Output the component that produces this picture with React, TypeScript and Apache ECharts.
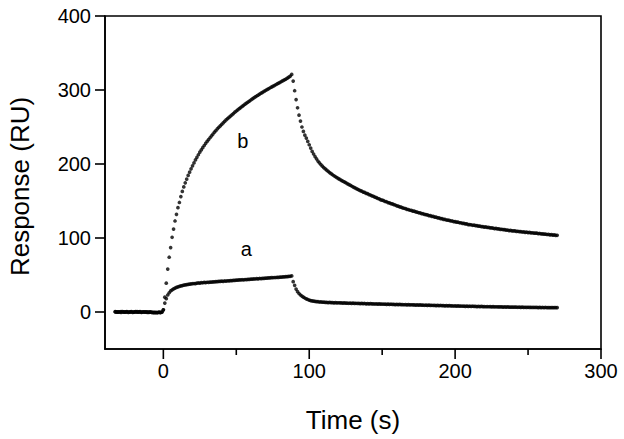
import React, { useEffect, useRef } from "react";
import * as echarts from "echarts";

const FONT = "'Liberation Sans', Arial, Helvetica, sans-serif";

// sampling: one point per second
const BASE_START = -33; // t = -33 .. -1
const RISE_START = 0; // t = 0 .. 88
const DECAY_START = 89; // t = 89 .. 270

const xLabelValues = [0, 100, 200, 300];
const xMinorValues = [50, 150, 250];
const yLabelValues = [0, 100, 200, 300, 400];

// curve b
const baseB = [0.2, -0.2, 0.3, 0, -0.4, 0.4, 0.1, -0.3, 0.5, 0, -0.1, 0.3, -0.4, 0.2, 0.5, -0.2, 0.1, 0.4, -0.3, 0.2, -0.1, 0.3, -0.4, -0.2, 0.1, -0.7, -0.4, -0.9, -0.5, -0.8, -0.3, -0.6, 0];
const riseB = [
  3, 20, 39, 58, 74, 87, 101, 112, 123, 132,
  141, 148, 156, 163, 169, 174.5, 179.5, 184.5, 189, 193.5,
  197.5, 201.5, 205.5, 209, 212.5, 216, 219, 222, 225, 228,
  230.5, 233, 235.5, 238, 240.5, 243, 245, 247.5, 249.5, 251.5,
  253.5, 255.5, 257.5, 259.5, 261.2, 263, 264.8, 266.5, 268.2, 270,
  271.6, 273.2, 274.8, 276.3, 277.8, 279.3, 280.8, 282.3, 283.7, 285.1,
  286.5, 287.9, 289.3, 290.6, 291.9, 293.2, 294.5, 295.7, 296.9, 298.1,
  299.3, 300.5, 301.6, 302.7, 303.8, 304.9, 306, 307.1, 308.2, 309.3,
  310.4, 311.5, 312.6, 313.7, 314.8, 316, 317.3, 318.8, 321,
];
const decayB = [
  312, 299, 287, 276, 266, 258, 250, 244, 239, 235,
  230.5, 226, 221.5, 217, 213.5, 210, 207, 204, 201.5, 199.2,
  197, 195, 193.3, 191.6, 190, 188.4, 186.9, 185.5, 184.1, 182.8,
  181.5, 180.3, 179.1, 178, 176.9, 175.8, 174.7, 173.6, 172.5, 171.4,
  170.3, 169.2, 168.1, 167.1, 166, 165, 164,
  163.3, 162.1, 161.6, 160.3, 159.9, 158.6, 158.1, 156.8, 156.4, 155.1, 154.6, 153.4, 152.9, 151.6, 151.2,
  150.5, 149.3, 149, 147.9, 147.5, 146.4, 146.1, 145, 144.6, 143.5, 143.2, 142, 141.7, 140.6, 140.2,
  139.6, 138.7, 138.5, 137.5, 137.4, 136.4, 136.2, 135.3, 135.1, 134.1, 134, 133, 132.8, 131.9, 131.7,
  131.2, 130.3, 130.2, 129.3, 129.2, 128.3, 128.2, 127.3, 127.2, 126.3, 126.2, 125.3, 125.2, 124.3, 124.2,
  123.8, 123, 123, 122.2, 122.2, 121.4, 121.4, 120.6, 120.6, 119.8, 119.8, 119, 119, 118.2, 118.2,
  117.9, 117.2, 117.3, 116.6, 116.7, 116, 116.1, 115.4, 115.5, 114.8, 114.9, 114.2, 114.3, 113.6, 113.7,
  113.4, 112.8, 112.9, 112.2, 112.4, 111.7, 111.8, 111.2, 111.3, 110.6, 110.8, 110.1, 110.2, 109.6, 109.7,
  109.5, 108.9, 109.1, 108.5, 108.7, 108.1, 108.3, 107.7, 107.9, 107.3, 107.5, 106.9, 107.1, 106.5, 106.7,
  106.5, 105.9, 106.1, 105.5, 105.7, 105.1, 105.3, 104.7, 104.9, 104.3, 104.5, 103.9, 104.1, 103.5, 103.7,
];

// curve a
const baseA = [0.4, 0.1, -0.3, 0.2, 0.5, 0, -0.2, 0.3, 0.1, -0.4, 0.2, 0.6, 0, -0.3, 0.1, 0.4, -0.1, 0.2, -0.5, 0, 0.3, -0.2, 0.1, -0.6, -0.3, 0, -0.8, -0.5, -1, -0.7, -0.4, -0.9, -0.2];
const riseA = [
  3, 12, 18, 23, 26, 28.5, 30, 31.2, 32.3, 33.2,
  34, 34.6, 35.2, 35.7, 36.2, 36.6, 37, 37.3, 37.6, 37.9, 38.2,
  38.5, 38.3, 38.9, 39.2, 39.1, 39.6, 39.5, 39.9, 39.8, 40.2,
  40.1, 40.5, 40.4, 40.8, 40.7, 41.1, 41, 41.4, 41.3, 41.6,
  41.5, 41.9, 41.8, 42.2, 42.1, 42.5, 42.4, 42.8, 42.7, 43.1,
  43, 43.4, 43.3, 43.6, 43.5, 43.9, 43.8, 44.2, 44.1, 44.4,
  44.3, 44.7, 44.6, 45, 44.9, 45.3, 45.2, 45.5, 45.4, 45.8,
  45.7, 46.1, 46, 46.4, 46.3, 46.6, 46.6, 46.9, 46.9, 47.2,
  47.2, 47.5, 47.5, 47.8, 47.9, 48.1, 48.3, 48.8,
];
const decayA = [
  41, 36, 31, 27.5, 25, 23, 21.5, 20.1, 18.9, 17.8, 16.9, 16.1, 15.5, 15, 14.6, 14.3, 14,
  13.9, 13.5, 13.6, 13.2, 13.3, 12.9, 13.1, 12.7, 12.9, 12.6, 12.8, 12.4, 12.7, 12.3, 12.5,
  12.2, 12.4, 12, 12.2, 11.9, 12.1, 11.8, 12, 11.7, 11.9, 11.6, 11.8, 11.5, 11.7, 11.4,
  11.6, 11.3, 11.5, 11.1, 11.3, 11, 11.2, 10.9, 11.1, 10.8, 11, 10.7, 10.9, 10.6, 10.8,
  10.5, 10.7, 10.4, 10.6, 10.3, 10.5, 10.2, 10.4, 10.1, 10.3, 10, 10.2, 9.9, 10.1, 9.8,
  10, 9.7, 9.9, 9.6, 9.8, 9.5, 9.7, 9.4, 9.6, 9.3, 9.5, 9.2, 9.4, 9.1, 9.3,
  9, 9.2, 8.9, 9.1, 8.8, 9, 8.7, 8.9, 8.6, 8.8, 8.5, 8.7, 8.4, 8.6, 8.3,
  8.5, 8.2, 8.4, 8.1, 8.3, 8, 8.2, 7.9, 8.1, 7.8, 8, 7.7, 7.9, 7.6, 7.8,
  7.6, 7.8, 7.5, 7.7, 7.4, 7.6, 7.3, 7.5, 7.2, 7.4, 7.1, 7.3, 7.1, 7.2, 7,
  7.2, 6.9, 7.1, 6.8, 7, 6.8, 6.9, 6.7, 6.9, 6.6, 6.8, 6.6, 6.7, 6.5, 6.7,
  6.5, 6.6, 6.4, 6.6, 6.3, 6.5, 6.3, 6.4, 6.2, 6.4, 6.2, 6.3, 6.1, 6.3, 6.1,
  6.2, 6, 6.2, 6, 6.1, 5.9, 6.1, 5.9, 6, 5.8, 6, 5.8, 6, 5.9, 6,
];

// annotation positions (data coordinates)
const labelB: [number, number] = [54.5, 231.5];
const labelA: [number, number] = [56.8, 84.5];

const X_MIN = -40;
const X_MAX = 300;
const Y_MIN = -50;
const Y_MAX = 400;

function toPairs(segments: [number, number[]][]): [number, number][] {
  const out: [number, number][] = [];
  segments.forEach(([start, vals]) => {
    vals.forEach((v, i) => out.push([start + i, v]));
  });
  return out;
}

export default function App() {
  const ref = useRef<HTMLDivElement>(null);
  useEffect(() => {
    if (!ref.current) return;
    const chart = echarts.init(ref.current, undefined, { renderer: "svg" });
    const dataB = toPairs([[BASE_START, baseB], [RISE_START, riseB], [DECAY_START, decayB]]);
    const dataA = toPairs([[BASE_START, baseA], [RISE_START, riseA], [DECAY_START, decayA]]);
    const markLabel = (coord: [number, number], text: string) => ({
      coord,
      value: text,
      symbol: "circle",
      symbolSize: 1,
      itemStyle: { color: "rgba(0,0,0,0)" },
      label: { show: true, position: "inside", formatter: text, fontSize: 20, color: "#000", fontFamily: FONT },
    });
    chart.setOption({
      animation: false,
      backgroundColor: "#fff",
      grid: { left: 105, right: 23, top: 16, bottom: 90, show: true, borderColor: "#000", borderWidth: 1.6, containLabel: false, outerBoundsMode: "none" },
      xAxis: {
        type: "value",
        min: X_MIN,
        max: X_MAX,
        position: "bottom",
        axisLine: { show: true, onZero: false, lineStyle: { color: "#000", width: 1.6 } },
        splitLine: { show: false },
        axisTick: { show: false },
        axisLabel: { customValues: xLabelValues, fontSize: 20, color: "#000", margin: 12, fontFamily: FONT },
        name: "Time (s)",
        nameLocation: "middle",
        nameGap: 58,
        nameTextStyle: { fontSize: 26, color: "#000", fontFamily: FONT },
      },
      yAxis: {
        type: "value",
        min: Y_MIN,
        max: Y_MAX,
        position: "left",
        axisLine: { show: true, onZero: false, lineStyle: { color: "#000", width: 1.6 } },
        splitLine: { show: false },
        axisTick: { show: false },
        axisLabel: { customValues: yLabelValues, fontSize: 20, color: "#000", margin: 14, fontFamily: FONT },
        name: "Response (RU)",
        nameLocation: "middle",
        nameGap: 72,
        nameTextStyle: { fontSize: 26, color: "#000", fontFamily: FONT, padding: [0, 8, 0, 0] },
      },
      series: [
        { name: "b", type: "scatter", symbol: "circle", symbolSize: 3.7, itemStyle: { color: "#000" }, data: dataB, markPoint: { data: [markLabel(labelB, "b")] } },
        { name: "a", type: "scatter", symbol: "circle", symbolSize: 3.7, itemStyle: { color: "#000" }, data: dataA, markPoint: { data: [markLabel(labelA, "a")] } },
      ],
    });

    // outward axis ticks, placed through the chart's own coordinate system
    const toPx = (x: number, y: number) => chart.convertToPixel({ gridIndex: 0 }, [x, y]) as number[];
    const lines: any[] = [];
    const tickStyle = { stroke: "#000", lineWidth: 1.6 };
    const addX = (v: number, len: number) => {
      const p = toPx(v, Y_MIN);
      lines.push({ type: "line", z: 100, silent: true, shape: { x1: p[0], y1: p[1], x2: p[0], y2: p[1] + len }, style: tickStyle });
    };
    const addY = (v: number, len: number) => {
      const p = toPx(X_MIN, v);
      lines.push({ type: "line", z: 100, silent: true, shape: { x1: p[0] - len, y1: p[1], x2: p[0], y2: p[1] }, style: tickStyle });
    };
    xLabelValues.forEach((v) => addX(v, 10));
    xMinorValues.forEach((v) => addX(v, 6));
    yLabelValues.forEach((v) => addY(v, 10));
    chart.setOption({ graphic: { elements: lines } });
    return () => chart.dispose();
  }, []);
  return <div ref={ref} style={{ position: "absolute", left: 0, top: 0, width: 624, height: 439, background: "#fff" }} />;
}
